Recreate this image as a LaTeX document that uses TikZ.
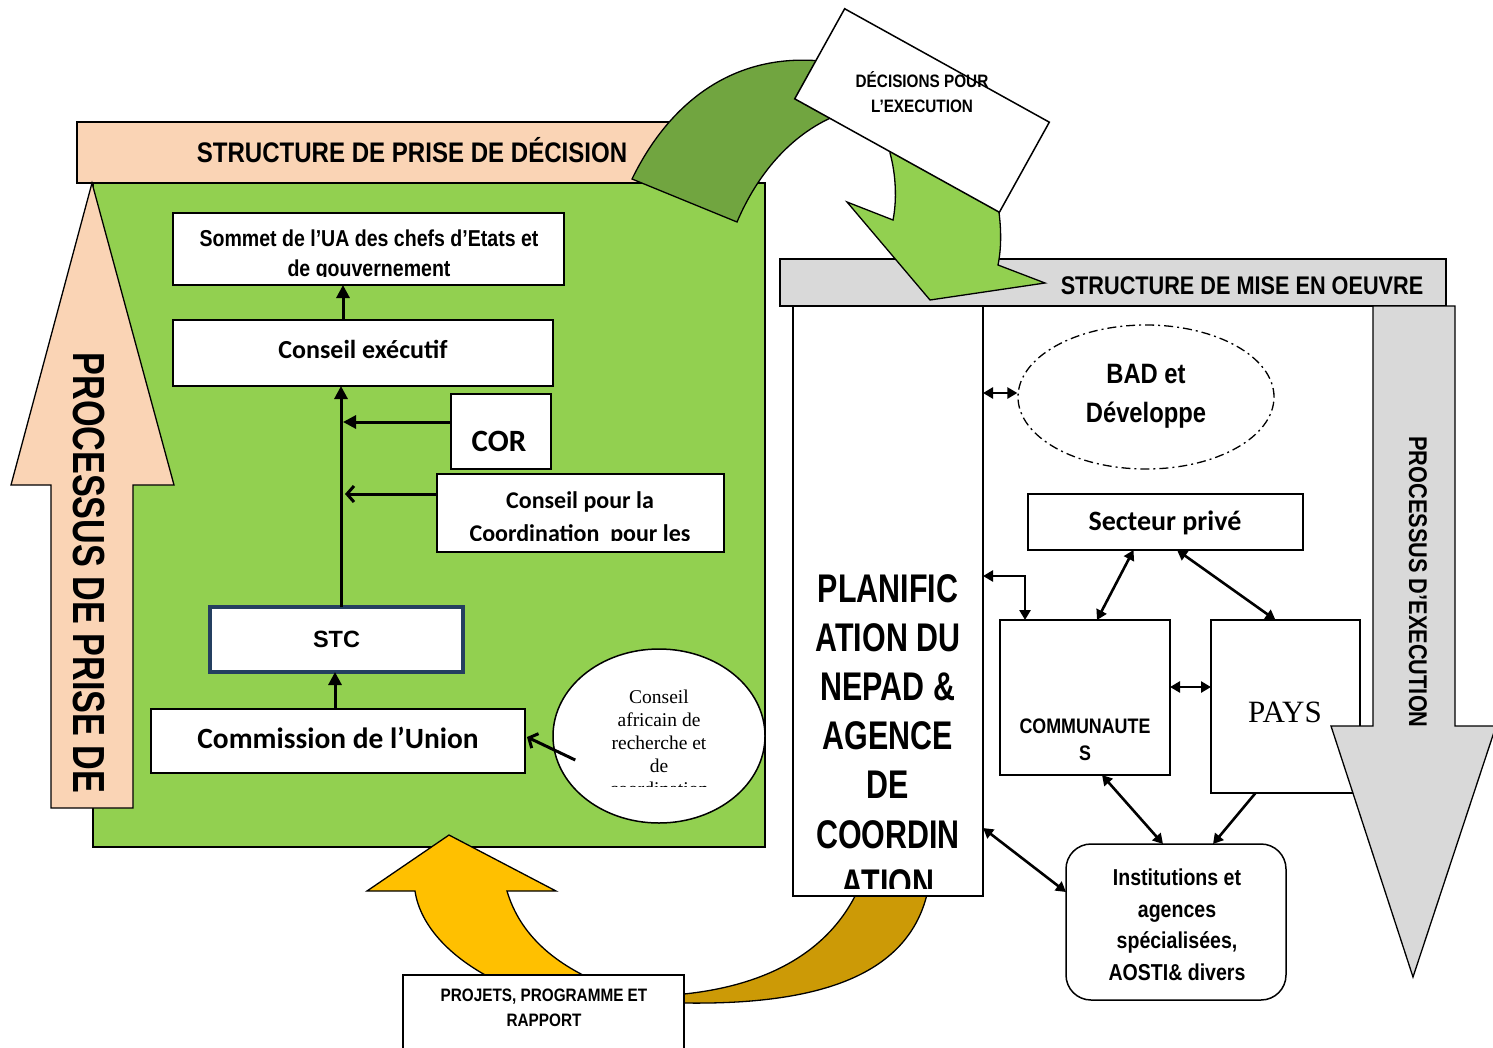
\documentclass[tikz,border=0pt]{standalone}
\usepackage{fontspec}
\setmainfont{Liberation Sans}
\newfontfamily\narb{Liberation Sans}[FakeStretch=0.76]
\newfontfamily\narw{Liberation Sans}[FakeStretch=0.85]
\newfontfamily\carl{Carlito}
\newfontfamily\tms{Liberation Serif}
\usetikzlibrary{arrows.meta,calc,shapes.geometric}
\definecolor{lgreen}{HTML}{92D050}
\definecolor{dgreen}{HTML}{71A540}
\definecolor{peach}{HTML}{FAD4B5}
\definecolor{lgray}{HTML}{D9D9D9}
\definecolor{gold}{HTML}{CC9A06}
\definecolor{amber}{HTML}{FFC000}
\definecolor{navy}{HTML}{243F60}
\newcommand\rectnode[7][]{%
  \pgfmathsetmacro\rcx{(#3+#5)/2}%
  \pgfmathsetmacro\rcy{(#4+#6)/2}%
  \pgfmathsetmacro\rcw{#5-#3}%
  \pgfmathsetmacro\rch{#6-#4}%
  \node[boxbase,#1,minimum width=\rcw pt,minimum height=\rch pt] (#2) at (\rcx,\rcy) {#7};}
\tikzset{
  boxbase/.style={draw=black,fill=white,line width=1.5pt,inner sep=0pt,outer sep=0pt,align=center},
  shapeline/.style={draw=black,line width=1.3pt,line join=miter},
  conn/.style={line width=3pt,-{Triangle[length=13pt,width=13pt]}},
  barb/.style={line width=3pt,-{Straight Barb[length=7pt,width=16pt,line width=3pt]}},
  dbl/.style={line width=2.6pt,{Triangle[length=10pt,width=11pt]}-{Triangle[length=10pt,width=11pt]}},
  sgl/.style={line width=2.6pt,-{Triangle[length=10pt,width=11pt]}},
}
\begin{document}
\begin{tikzpicture}[x=1pt,y=-1pt]
\useasboundingbox (0,0) rectangle (1493,1047);
\clip (0,0) rectangle (1493,1047);
\fill[white] (0,0) rectangle (1493,1047);

% ---------- left: decision structure ----------
\rectnode[fill=lgreen]{green}{93}{183}{765}{847}{}
\rectnode[fill=peach]{hdrL}{77}{122}{690}{183}{}
\node[font=\narw\bfseries\fontsize{28.3}{34}\selectfont] (hdrLtxt) at (412,150) {STRUCTURE DE PRISE DE DÉCISION};

% dark green curved band
\path[shapeline,fill=dgreen] (632,179) .. controls (672,97) and (740,50) .. (830,62) -- (845,110) -- (835,116) .. controls (790,135) and (757,175) .. (737,222) -- cycle;

% left peach arrow
\path[shapeline,fill=peach] (92,183) -- (174,485) -- (133,485) -- (133,808) -- (51,808) -- (51,485) -- (11,485) -- cycle;
\node[rotate=-90,font=\narb\bfseries\fontsize{45}{50}\selectfont] (procL) at (89,573) {PROCESSUS DE PRISE DE};

% boxes
\rectnode{sommet}{173}{213}{564}{285}{}
\begin{scope}
\clip (173,213) rectangle (564,276);
\node[align=center,font=\narw\bfseries\fontsize{23}{30}\selectfont] (sommettxt) at (369,256) {Sommet de l’UA des chefs d’Etats et\\de gouvernement};
\end{scope}
\rectnode{conseil}{173}{320}{553}{386}{}
\node[font=\carl\bfseries\fontsize{26}{30}\selectfont] (conseiltxt) at (363,349) {Conseil exécutif};
\rectnode{cor}{451}{394}{551}{469}{}
\node[font=\carl\bfseries\fontsize{31}{36}\selectfont] (cortxt) at (499,441) {COR};
\rectnode{cpl}{437}{474}{724}{552}{}
\begin{scope}
\clip (437,474) rectangle (724,540);
\node[align=center,font=\carl\bfseries\fontsize{24}{33}\selectfont] (cpltxt) at (580,518) {Conseil pour la\\Coordination\ \ pour les};
\end{scope}
\rectnode[draw=navy,line width=4pt,font=\bfseries\fontsize{23.5}{28}\selectfont]{stc}{210}{607}{463}{672}{STC}
\rectnode{commission}{151}{709}{525}{773}{}
\node[font=\carl\bfseries\fontsize{29.4}{34}\selectfont] (commissiontxt) at (338,738) {Commission de l’Union};
\node[draw,fill=white,ellipse,line width=1.5pt,minimum width=212pt,minimum height=174pt,inner sep=0pt] (carc) at (659,736) {};
\begin{scope}
\clip (540,600) rectangle (780,786);
\node[align=center,font=\tms\fontsize{19.5}{23}\selectfont] (carctxt) at (659,743) {Conseil\\africain de\\recherche et\\de\\coordination};
\end{scope}

% left connectors
\coordinate (vline) at ([xshift=4.5pt]stc.north);
\draw[conn] (vline) -- (vline |- conseil.south);
\draw[conn] ([xshift=-20pt]conseil.north) -- ([xshift=-20pt]conseil.north |- sommet.south);
\draw[conn] ([yshift=9.5pt]cor.west) -- ([yshift=9.5pt,xshift=2pt]cor.west -| vline);
\draw[barb] ([yshift=19pt]cpl.west) -- ([yshift=19pt,xshift=4pt]cpl.west -| vline);
\draw[conn] ([xshift=-3pt]commission.north) -- ([xshift=-3pt]commission.north |- stc.south);
\draw[barb] ([shift={(23pt,-24pt)}]carc.west) -- ([xshift=2pt,yshift=4pt]commission.east);

% ---------- bottom curved arrows ----------
\path[shapeline,fill=amber] (505,985) .. controls (450,960) and (420,925) .. (415,891) -- (367,891) -- (449,835) -- (556,891) -- (507,891) .. controls (520,935) and (555,965) .. (605,985) -- cycle;
\path[shapeline,fill=gold] (858,890) .. controls (830,950) and (770,985) .. (684,994) -- (684,1003) .. controls (820,1005) and (910,975) .. (928,890) -- cycle;

% ---------- right: implementation structure ----------
\rectnode[fill=lgray]{hdrR}{780}{259}{1446}{306}{}
\node[font=\narw\bfseries\fontsize{25.5}{30}\selectfont] (hdrRtxt) at (1242,286) {STRUCTURE DE MISE EN OEUVRE};

\rectnode{nepad}{793}{306}{983}{896}{}
\begin{scope}
\clip (793,306) rectangle (983,888);
\node[align=center,font=\narb\bfseries\fontsize{40}{49.2}\selectfont] (nepadtxt) at (888,736) {PLANIFIC\\ATION DU\\NEPAD \&\\AGENCE\\DE\\COORDIN\\ATION};
\end{scope}

% light green arrow head
\path[shapeline,fill=lgreen] (890,145) -- (890,153) .. controls (896,175) and (897,200) .. (893,220) -- (847,202) -- (930,300) -- (1045,283) -- (998,265) .. controls (1002,245) and (1001,225) .. (998,205) -- cycle;

% decisions box
\node[draw,fill=white,line width=1.5pt,minimum width=234pt,minimum height=103pt,rotate=-29,inner sep=0pt] (decis) at (922,110.5) {};
\node[align=center,font=\narw\bfseries\fontsize{18}{25}\selectfont] (decistxt) at (922,92) {DÉCISIONS POUR\\L’EXECUTION};

% BAD ellipse
\node[draw,ellipse,dash pattern=on 9pt off 4pt on 2pt off 4pt,line width=1.3pt,minimum width=256pt,minimum height=144pt,inner sep=0pt] (bad) at (1146,397) {};
\node[align=center,font=\narw\bfseries\fontsize{28}{39}\selectfont] (badtxt) at (1146,396) {BAD et\\Développe};

\rectnode{secteur}{1028}{494}{1303}{550}{}
\node[font=\carl\bfseries\fontsize{28}{32}\selectfont] (secteurtxt) at (1165,523) {Secteur privé};
\rectnode{comm}{1000}{620}{1170}{775}{}
\node[align=center,font=\narw\bfseries\fontsize{21}{27}\selectfont] (commtxt) at (1085,740) {COMMUNAUTE\\S};
\rectnode{pays}{1211}{620}{1360}{793}{}
\node[font=\tms\fontsize{31}{36}\selectfont] (paystxt) at (1285,712) {PAYS};
\rectnode[rounded corners=25pt]{inst}{1066}{844}{1286}{1000}{}
\node[align=center,font=\narw\bfseries\fontsize{23}{31.5}\selectfont] (insttxt) at (1177,925) {Institutions et\\agences\\spécialisées,\\AOSTI\& divers};

% gray down arrow
\path[shapeline,fill=lgray] (1373,306) -- (1455,306) -- (1455,726) -- (1496,726) -- (1413,977) -- (1331,726) -- (1373,726) -- cycle;
\node[rotate=-90,font=\narw\bfseries\fontsize{25.6}{30}\selectfont] (procR) at (1418,582) {PROCESSUS D’EXECUTION};

% right connectors
\draw[dbl] ([yshift=208pt]nepad.east) -- ([yshift=208pt]nepad.east -| bad.west);
\draw[dbl] ([yshift=25pt]nepad.east) -| ([xshift=-60pt]comm.north);
\draw[dbl] ([xshift=-32pt]secteur.south) -- ([xshift=12pt]comm.north);
\draw[dbl] ([xshift=11.5pt]secteur.south) -- ([xshift=-10pt]pays.north);
\draw[dbl] ([yshift=10.5pt]comm.east) -- ([yshift=10.5pt]comm.east -| pays.west);
\draw[dbl] ([xshift=17pt]comm.south) -- ([xshift=-13pt]inst.north);
\draw[sgl] ([xshift=-30pt]pays.south) -- ([xshift=37pt]inst.north);
\draw[dbl] ([yshift=-227pt]nepad.east) -- ([yshift=30pt]inst.west);

% projets box
\rectnode{projets}{403}{975}{684}{1060}{}
\node[align=center,font=\narw\bfseries\fontsize{18}{25}\selectfont] (projtxt) at (544,1008) {PROJETS, PROGRAMME ET\\RAPPORT};
\end{tikzpicture}
\end{document}
